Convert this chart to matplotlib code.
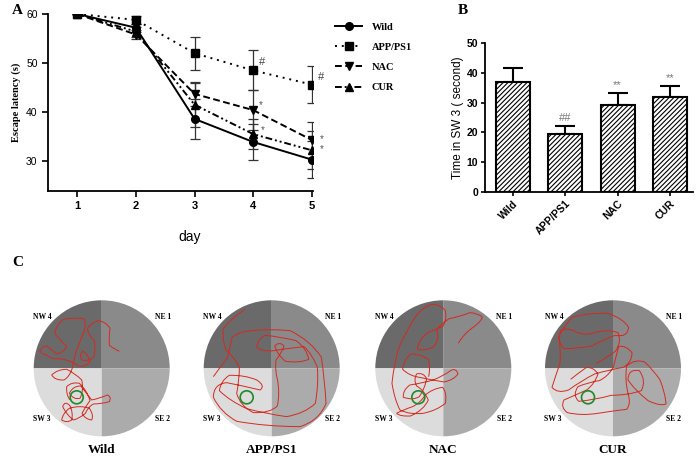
import matplotlib
matplotlib.use("Agg")
import matplotlib.pyplot as plt
from matplotlib.patches import Wedge, Circle, PathPatch
from matplotlib.path import Path

W, H = 698, 457
serif = "Liberation Serif"
sans = "Liberation Sans"

# ---- panel A: escape latency per day
days = [1, 2, 3, 4, 5]
wild_lat = [60, 57.2, 38.6, 33.9, 30.3]
wild_err = [0, 0.8, 4.1, 3.7, 3.8]
app_lat = [60, 58.8, 52.0, 48.5, 45.6]
app_err = [0, 0.8, 3.4, 4.1, 3.7]
nac_lat = [60, 55.8, 43.7, 40.4, 34.3]
nac_err = [0, 1.0, 2.5, 4.1, 3.7]
cur_lat = [60, 56.4, 41.5, 35.5, 32.2]
cur_err = [0, 1.0, 4.5, 3.0, 3.9]

# ---- panel B: time in target quadrant
groups = ["Wild", "APP/PS1", "NAC", "CUR"]
sw3_time = [36.9, 19.5, 29.2, 32.0]
sw3_err = [4.9, 2.7, 4.1, 3.7]
sw3_marks = ["", "##", "**", "**"]

# ---- panel C: swim paths (trace px, y down)
trace_centres = [(245, 265), (245, 265), (250, 265), (255, 265)]
wild_path = [(298, 214), (280, 206), (268, 196), (266, 170), (270, 145), (258, 126), (236, 122), (214, 128),
             (202, 146), (206, 168), (222, 180), (228, 200), (222, 230), (206, 246), (186, 240), (176, 226),
             (188, 214), (204, 222), (210, 245), (200, 262), (176, 258), (150, 240), (120, 236), (95, 240),
             (80, 225), (62, 222), (60, 212), (66, 200), (80, 198), (95, 210), (110, 222), (130, 218),
             (140, 200), (118, 178), (104, 160), (108, 135), (130, 118), (165, 112), (192, 116), (200, 135),
             (190, 160), (178, 188), (168, 215), (162, 236), (158, 260), (150, 290), (132, 300), (105, 302),
             (95, 285), (112, 268), (140, 268), (165, 280), (185, 300), (192, 330), (180, 355), (160, 360),
             (148, 340), (158, 318), (182, 318), (200, 340), (215, 360), (240, 355), (262, 345), (275, 350),
             (268, 365), (245, 372), (220, 372), (205, 380), (196, 400), (180, 415), (160, 420), (140, 405),
             (128, 380), (135, 360), (150, 378), (160, 400), (155, 420), (140, 430), (125, 420), (128, 400),
             (148, 385), (180, 375), (208, 385), (222, 405), (215, 420), (195, 418), (186, 400), (195, 382),
             (210, 362), (200, 330), (178, 310), (155, 305), (140, 320), (138, 345), (150, 360)]
app_path = [(165, 88), (128, 112), (100, 145), (96, 180), (108, 210), (130, 228), (148, 262), (148, 300),
            (140, 340), (150, 378), (190, 398), (240, 400), (262, 378), (270, 338), (262, 298), (254, 268),
            (258, 240), (276, 218), (282, 198), (268, 183), (254, 198), (262, 224), (286, 244), (330, 250),
            (356, 238), (350, 204), (318, 182), (270, 170), (224, 166), (202, 180), (200, 202), (218, 216),
            (252, 212), (300, 204), (342, 200), (366, 222), (382, 262), (386, 312), (376, 370), (346, 400),
            (290, 410), (230, 402), (170, 386), (118, 362), (88, 332), (92, 302), (118, 286), (165, 285),
            (200, 300), (228, 318), (210, 330), (160, 318), (110, 308), (70, 312), (70, 352), (92, 398),
            (140, 424), (230, 440), (330, 440), (388, 422), (408, 370), (404, 300), (394, 232), (362, 182),
            (300, 152), (228, 146), (190, 152), (152, 152), (126, 172), (120, 204), (112, 234), (90, 262),
            (70, 290)]
nac_path = [(295, 190), (312, 160), (345, 138), (370, 118), (366, 110), (352, 100), (330, 98), (300, 110),
            (268, 116), (244, 130), (230, 150), (240, 175), (222, 200), (192, 215), (172, 208), (176, 180),
            (200, 160), (224, 148), (248, 140), (262, 120), (256, 92), (238, 70), (212, 74), (188, 82),
            (168, 108), (140, 150), (118, 200), (102, 250), (96, 310), (104, 360), (120, 390), (150, 405),
            (190, 400), (230, 392), (256, 370), (262, 340), (248, 322), (218, 326), (196, 345), (182, 368),
            (158, 380), (128, 390), (110, 400), (120, 410), (152, 408), (192, 390), (205, 360), (192, 330),
            (170, 318), (160, 300), (170, 282), (190, 276), (200, 296), (195, 325), (178, 350), (160, 362),
            (130, 352), (128, 330), (150, 315), (185, 310), (220, 300), (250, 288), (272, 272), (288, 262),
            (294, 282), (282, 300), (252, 306), (215, 300), (178, 292), (148, 288), (128, 268), (132, 240),
            (152, 222), (182, 222), (205, 238), (212, 262), (206, 290)]
cur_path = [(205, 250), (232, 236), (262, 214), (282, 186), (270, 158), (240, 148), (206, 156), (176, 168),
            (148, 158), (120, 140), (98, 152), (86, 186), (108, 206), (150, 206), (192, 198), (226, 178),
            (262, 166), (298, 174), (302, 142), (286, 116), (240, 100), (180, 98), (132, 112), (112, 134),
            (92, 170), (100, 210), (96, 250), (82, 290), (72, 322), (88, 342), (122, 330), (160, 302),
            (200, 282), (242, 270), (286, 262), (312, 248), (312, 218), (292, 194), (272, 200), (264, 230),
            (256, 262), (240, 290), (214, 302), (184, 306), (150, 320), (132, 345), (152, 364), (200, 360),
            (250, 346), (300, 346), (340, 332), (356, 302), (334, 272), (300, 266), (300, 300), (320, 330),
            (360, 362), (398, 380), (414, 372), (412, 340), (396, 300), (378, 272), (350, 246), (320, 236),
            (296, 258), (290, 300), (300, 340), (310, 372), (296, 388), (260, 392), (210, 400), (160, 408),
            (118, 398), (96, 382), (108, 360), (140, 346), (176, 330), (200, 312), (210, 282), (198, 262),
            (176, 262), (150, 280), (128, 298), (112, 312)]
swim_paths = [wild_path, app_path, nac_path, cur_path]
platform_xy = (-25, -29)

fig = plt.figure(figsize=(W / 100, H / 100), dpi=100)


def fax(left, top, right, bottom):
    return fig.add_axes([left / W, 1 - bottom / H, (right - left) / W, (bottom - top) / H])


# ================= A
ax = fax(48, 14, 313, 191)
series = [
    ("Wild", wild_lat, wild_err, "o", "-"),
    ("APP/PS1", app_lat, app_err, "s", (0, (1, 2.5))),
    ("NAC", nac_lat, nac_err, "v", (0, (3.5, 1.8))),
    ("CUR", cur_lat, cur_err, "^", (0, (3.5, 1.5, 1, 1.5, 1, 1.5))),
]
handles = []
for name, vals, errs, mk, ls in series:
    ax.errorbar(days, vals, yerr=errs, fmt="none", ecolor="#333333", elinewidth=0.9,
                capsize=3.5, capthick=0.9, zorder=2)
    ln, = ax.plot(days, vals, color="black", linestyle=ls, linewidth=1.4, marker=mk,
                  markersize=5.5, zorder=3, label=name)
    handles.append(ln)

for xx, yy, s in [(4.1, 49.6, "#"), (5.1, 46.6, "#")]:
    ax.text(xx, yy, s, fontsize=8, color="#444444", family=sans)
for xx, yy, s in [(4.1, 40.8, "*"), (4.13, 35.8, "*"), (5.13, 33.9, "*"), (5.13, 31.8, "*")]:
    ax.text(xx, yy, s, fontsize=7, color="#555555", family=sans)

ax.set_xlim(0.5, 5.02)
ax.set_ylim(23.9, 60)
ax.set_xticks(days)
ax.set_yticks([30, 40, 50, 60])
ax.tick_params(direction="out", length=4, width=1.2)
for lb in ax.get_xticklabels():
    lb.set_fontfamily(sans)
    lb.set_fontweight("bold")
    lb.set_fontsize(8)
for lb in ax.get_yticklabels():
    lb.set_fontfamily(sans)
    lb.set_fontsize(7.5)
for side in ["top", "right"]:
    ax.spines[side].set_visible(False)
for side in ["left", "bottom"]:
    ax.spines[side].set_linewidth(1.3)
ax.set_ylabel("Escape latency (s)", family=serif, fontweight="bold", fontsize=7.5, labelpad=4)
fig.text(190 / W, 1 - 237 / H, "day", family=sans, fontsize=10, ha="center", va="center")

leg = fig.legend(handles=handles, loc="upper left", bbox_to_anchor=(326 / W, 1 - 13 / H),
                 frameon=False, handlelength=2.6, handletextpad=0.9, labelspacing=1.05,
                 prop={"family": serif, "weight": "bold", "size": 7.5})

# ================= B
bx = fax(485, 43.3, 693, 191.7)
pos = list(range(len(groups)))
plt.rcParams["hatch.color"] = "#555555"
plt.rcParams["hatch.linewidth"] = 0.8
bx.bar(pos, sw3_time, width=0.65, color="white", edgecolor="black", linewidth=1.5,
       hatch="///////", zorder=2)
bx.errorbar(pos, sw3_time, yerr=[[0] * 4, sw3_err], fmt="none", ecolor="black",
            elinewidth=1.5, capsize=7, capthick=1.5, zorder=1)
for p, v, e, s in zip(pos, sw3_time, sw3_err, sw3_marks):
    if s:
        bx.text(p, v + e + 1.0, s, ha="center", va="bottom", fontsize=8, color="#777777",
                family=sans)
bx.set_xlim(-0.535, 3.44)
bx.set_ylim(0, 50)
bx.set_yticks([0, 10, 20, 30, 40, 50])
bx.set_xticks(pos)
bx.set_xticklabels(groups, rotation=45, ha="right", rotation_mode="anchor")
bx.tick_params(direction="out", length=3, width=1.2, pad=2)
for lb in bx.get_xticklabels() + bx.get_yticklabels():
    lb.set_fontfamily(sans)
    lb.set_fontweight("bold")
    lb.set_fontsize(7.5)
for side in ["top", "right"]:
    bx.spines[side].set_visible(False)
for side in ["left", "bottom"]:
    bx.spines[side].set_linewidth(1.3)
bx.set_ylabel("Time in SW 3 ( second)", family=sans, fontsize=8.5, labelpad=2)

# ================= C
centres_x = [101.7, 271.7, 443.3, 613.0]
cy = 368.3
R = 68
quad_cols = {"NE": "#8a8a8a", "NW": "#6a6a6a", "SW": "#dcdcdc", "SE": "#ababab"}
quad_angles = {"NE": (0, 90), "NW": (90, 180), "SW": (180, 270), "SE": (270, 360)}
quad_labels = [("NW 4", -59, 51), ("NE 1", 61, 51), ("SW 3", -60, -51), ("SE 2", 61, -51)]
for cx, name, path, (tcx, tcy) in zip(centres_x, groups, swim_paths, trace_centres):
    cax = fax(cx - 80, cy - 80, cx + 80, cy + 80)
    cax.set_xlim(-80, 80)
    cax.set_ylim(-80, 80)
    cax.axis("off")
    for q, (a0, a1) in quad_angles.items():
        cax.add_patch(Wedge((0, 0), R, a0, a1, facecolor=quad_cols[q], edgecolor="none"))
    # traced points used as quadratic bezier control/end points for a curvy track
    pts = [((x - tcx) / 3, (tcy - y) / 3) for x, y in path]
    if len(pts) % 2 == 0:
        pts = pts[:-1]
    codes = [Path.MOVETO] + [Path.CURVE3] * (len(pts) - 1)
    track = PathPatch(Path(pts, codes), facecolor="none", edgecolor="#d42a20", linewidth=0.7)
    cax.add_patch(track)
    track.set_clip_path(Circle((0, 0), R, transform=cax.transData))
    cax.add_patch(Circle(platform_xy, 6.5, facecolor="none", edgecolor="#1f8a2a", linewidth=1.2))
    for lab, lx, ly in quad_labels:
        cax.text(lx, ly, lab, ha="center", va="center", family=serif, fontsize=5.5,
                 fontweight="bold")
    fig.text(cx / W, 1 - 450 / H, name, ha="center", va="center", family=serif,
             fontsize=9.5, fontweight="bold")

# panel letters
fig.text(12 / W, 1 - 10 / H, "A", family=serif, fontweight="bold", fontsize=11, va="center")
fig.text(458 / W, 1 - 11 / H, "B", family=serif, fontweight="bold", fontsize=11, va="center")
fig.text(12 / W, 1 - 263 / H, "C", family=serif, fontweight="bold", fontsize=11, va="center")

fig.savefig("out.png", dpi=100)
